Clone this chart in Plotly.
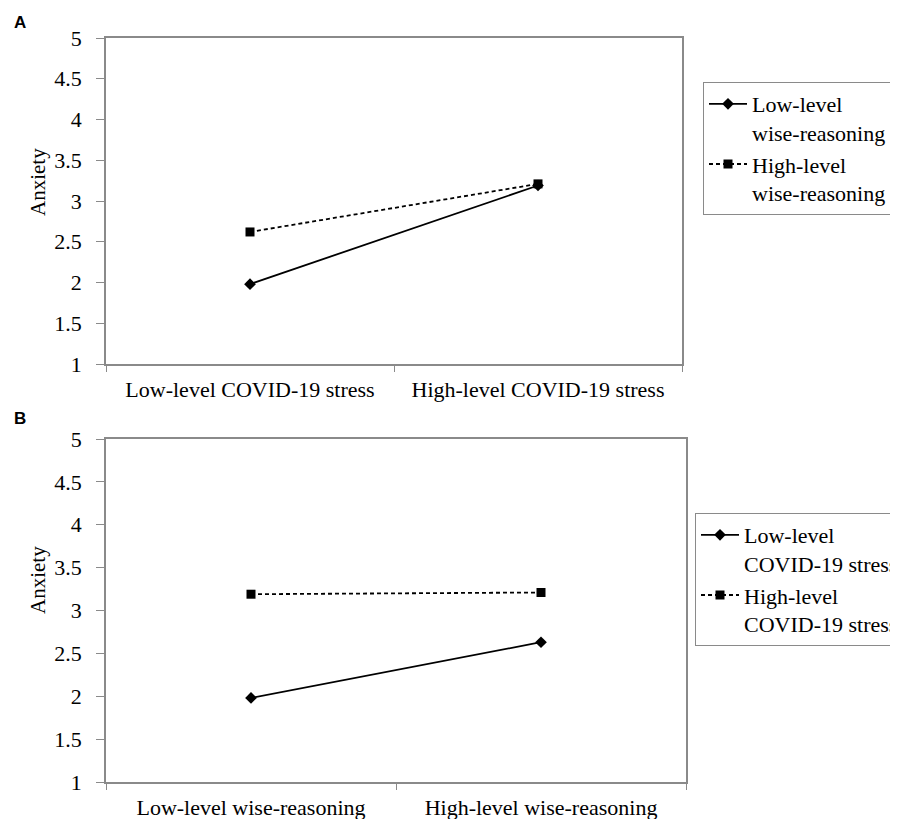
import plotly.graph_objects as go

# Panel A data
cats_a = ["Low-level COVID-19 stress", "High-level COVID-19 stress"]
low_wise_a = [1.98, 3.19]
high_wise_a = [2.62, 3.21]
names_a = ["Low-level<br>wise-reasoning", "High-level<br>wise-reasoning"]

# Panel B data
cats_b = ["Low-level wise-reasoning", "High-level wise-reasoning"]
low_stress_b = [1.98, 2.63]
high_stress_b = [3.19, 3.21]
names_b = ["Low-level<br>COVID-19 stress", "High-level<br>COVID-19 stress"]

y_ticks = [1, 1.5, 2, 2.5, 3, 3.5, 4, 4.5, 5]
y_tick_text = ["1", "1.5", "2", "2.5", "3", "3.5", "4", "4.5", "5"]

SERIF = "Liberation Serif, Times New Roman, serif"
GRAY = "#8a8a8a"

fig = go.Figure()

def add_series(x, y, name, xa, ya, legend, symbol, dash, msize):
    fig.add_trace(go.Scatter(
        x=x, y=y, name=name, mode="lines+markers",
        xaxis=xa, yaxis=ya, legend=legend,
        line=dict(color="black", width=1.8, dash=dash),
        marker=dict(symbol=symbol, size=msize, color="black"),
    ))

add_series(cats_a, low_wise_a, names_a[0], "x", "y", "legend", "diamond", "solid", 9)
add_series(cats_a, high_wise_a, names_a[1], "x", "y", "legend", "square", "4px,3px", 9)
add_series(cats_b, low_stress_b, names_b[0], "x2", "y2", "legend2", "diamond", "solid", 9)
add_series(cats_b, high_stress_b, names_b[1], "x2", "y2", "legend2", "square", "4px,3px", 9)

# page body adds an 8px offset; figure is sized to fit the window
OFF = 8
W, H = 898 - OFF, 819 - OFF
def px(x):
    return (x - OFF) / W
def py(y):
    return 1 - (y - OFF) / H

xcommon = dict(
    type="category", showline=True, linecolor=GRAY, linewidth=1.5, mirror=True,
    ticks="outside", tickson="boundaries", ticklen=6, tickcolor=GRAY,
    showgrid=False, zeroline=False, range=[-0.5, 1.5], automargin=False,
    ticklabelstandoff=5,
    tickfont=dict(family=SERIF, size=22, color="black"), fixedrange=True,
)
ycommon = dict(
    range=[1, 5], tickvals=y_ticks, ticktext=y_tick_text,
    showline=True, linecolor=GRAY, linewidth=1.5, mirror=True,
    ticks="outside", ticklen=8, tickcolor=GRAY, showgrid=False, zeroline=False,
    automargin=False, ticklabelstandoff=10,
    tickfont=dict(family=SERIF, size=22, color="black"), fixedrange=True,
)

legend_common = dict(
    font=dict(family=SERIF, size=22, color="black"),
    bordercolor=GRAY, borderwidth=1, bgcolor="white",
    xanchor="left", yanchor="top", tracegroupgap=0, itemwidth=38,
    valign="top",
)

fig.update_layout(
    template="none",
    width=W, height=H, autosize=False,
    margin=dict(l=0, r=0, t=0, b=0, pad=0, autoexpand=False),
    paper_bgcolor="white", plot_bgcolor="white",
    xaxis=dict(domain=[px(106), px(682)], anchor="y", **xcommon),
    yaxis=dict(domain=[py(364), py(38)], anchor="x", **ycommon),
    xaxis2=dict(domain=[px(106), px(686)], anchor="y2", **xcommon),
    yaxis2=dict(domain=[py(782), py(439)], anchor="x2", **ycommon),
    legend=dict(x=px(703), y=py(82), **legend_common),
    legend2=dict(x=px(695), y=py(513), **legend_common),
    showlegend=True,
    annotations=[
        dict(text="<b>A</b>", x=px(12), y=py(23), xref="paper", yref="paper",
             xanchor="left", yanchor="middle", showarrow=False,
             font=dict(family="Liberation Sans, Arial, sans-serif", size=17, color="black")),
        dict(text="<b>B</b>", x=px(12), y=py(419), xref="paper", yref="paper",
             xanchor="left", yanchor="middle", showarrow=False,
             font=dict(family="Liberation Sans, Arial, sans-serif", size=17, color="black")),
        dict(text="Anxiety", x=px(38), y=py(182), xref="paper", yref="paper",
             xanchor="center", yanchor="middle", showarrow=False, textangle=-90,
             font=dict(family=SERIF, size=21, color="black")),
        dict(text="Anxiety", x=px(38), y=py(580), xref="paper", yref="paper",
             xanchor="center", yanchor="middle", showarrow=False, textangle=-90,
             font=dict(family=SERIF, size=21, color="black")),
    ],
)

fig.write_html("out.html")
